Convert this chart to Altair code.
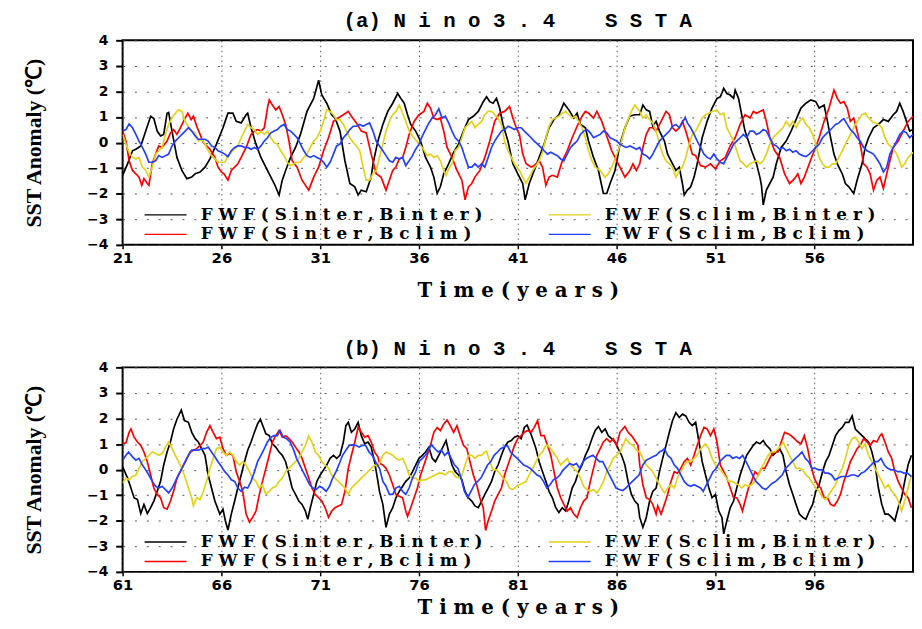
import altair as alt
import pandas as pd

# legend is laid out column by column: column 1 = black, red ; column 2 = yellow, blue
SERIES = ["FWF(Sinter,Binter)", "FWF(Sinter,Bclim)", "FWF(Sclim,Binter)", "FWF(Sclim,Bclim)"]
COLORS = ["#000000", "#ff0000", "#e3d21c", "#2440ff"]

TICKS_A = [21, 26, 31, 36, 41, 46, 51, 56]
TICKS_B = [61, 66, 71, 76, 81, 86, 91, 96]
Y_TICKS = [-4, -3, -2, -1, 0, 1, 2, 3, 4]

# ---------------- panel (a): (year, SST anomaly) ----------------
A_SINTER_BINTER = [(21.00,-1.28),(21.25,-0.83),(21.50,-0.32),(21.67,-0.26),(21.92,-0.13),(22.17,0.45),(22.42,1.03),(22.58,0.94),(22.75,0.45),(22.92,0.26),(23.08,0.32),(23.25,1.15),(23.33,1.18),(23.50,0.45),(23.75,-0.58),(24.00,-1.09),(24.25,-1.41),(24.50,-1.35),(24.67,-1.22),(24.92,-1.15),(25.17,-0.96),(25.42,-0.64),(25.75,-0.06),(26.08,0.58),(26.33,1.15),(26.58,1.15),(26.75,0.83),(27.00,0.77),(27.25,1.09),(27.33,1.15),(27.50,0.58),(27.75,-0.06),(28.00,-0.58),(28.33,-1.09),(28.67,-1.60),(28.92,-2.05),(29.08,-1.47),(29.25,-1.09),(29.50,-0.58),(29.75,-0.19),(30.00,0.32),(30.33,1.22),(30.67,1.73),(30.92,2.44),(31.08,1.86),(31.33,1.54),(31.58,1.09),(31.75,0.96),(32.00,0.45),(32.25,-0.71),(32.50,-1.60),(32.75,-1.73),(32.92,-2.05),(33.08,-1.86),(33.33,-1.92),(33.58,-1.35),
    (33.67,-0.83),(33.92,0.06),(34.17,0.71),(34.42,1.22),(34.67,1.54),(34.92,1.92),(35.08,1.73),(35.25,1.54),(35.42,1.09),(35.58,0.71),(35.83,0.45),(36.08,0.06),(36.33,-0.58),(36.58,-0.96),(36.75,-1.35),(36.92,-1.99),(37.08,-1.73),(37.25,-1.22),(37.50,-0.83),(37.75,-0.38),(38.00,-0.06),(38.25,0.45),(38.50,0.90),(38.75,1.03),(39.00,1.22),(39.25,1.60),(39.42,1.79),(39.58,1.60),(39.75,1.54),(39.92,1.73),(40.08,1.35),(40.25,0.71),(40.50,0.06),(40.75,-0.83),(41.00,-1.22),(41.25,-1.60),(41.37,-2.24),(41.58,-1.60),(41.83,-1.09),(42.08,-0.58),(42.33,-0.06),(42.58,0.58),(42.83,0.90),(43.08,1.09),(43.33,1.54),(43.58,1.28),(43.83,0.96),(44.00,1.15),(44.17,0.71),(44.42,0.58),(44.58,0.06),(44.83,-0.58),(45.08,-1.09),(45.33,-1.99),(45.50,-1.99),(45.67,-1.60),(45.92,-1.09),(46.17,-0.06),(46.42,0.58),(46.67,1.03),(46.92,1.09),
    (47.17,1.09),(47.33,1.47),(47.50,1.28),(47.67,1.22),(47.83,0.64),(48.00,0.83),(48.17,0.45),(48.42,0.06),(48.58,-0.45),(48.83,-0.83),(49.00,-1.09),(49.17,-0.96),(49.33,-1.60),(49.42,-2.05),(49.58,-1.86),(49.75,-1.73),(49.92,-1.35),(50.08,-0.83),(50.33,0.19),(50.58,0.83),(50.83,1.35),(51.08,1.73),(51.25,1.79),(51.42,2.12),(51.58,1.92),(51.75,1.86),(51.92,1.73),(52.00,2.05),(52.17,1.73),(52.33,1.09),(52.50,0.45),(52.67,0.06),(52.83,-0.32),(53.08,-0.83),(53.25,-1.35),(53.33,-1.67),(53.42,-2.44),(53.58,-1.86),(53.75,-1.60),(53.92,-1.35),(54.08,-0.83),(54.33,-0.19),(54.58,0.06),(54.83,0.45),(55.08,0.90),(55.33,1.35),(55.58,1.54),(55.83,1.67),(56.08,1.60),(56.25,1.35),(56.50,1.47),(56.67,0.83),(56.83,0.19),(57.00,-0.45),(57.17,-0.83),(57.42,-1.22),(57.58,-1.60),(57.75,-1.73),(58.00,-1.99),(58.17,-1.47),(58.42,-0.83),(58.58,-0.19),(58.75,0.19),(59.00,0.58),(59.25,0.71),(59.50,0.90),(59.75,0.83),(60.00,1.09),(60.17,1.22),(60.33,1.54),(60.50,1.22),(60.67,0.83),(60.83,0.45),(61.00,0.51)]

A_SINTER_BCLIM = [(21.00,0.45),(21.17,0.06),(21.33,-0.71),(21.50,-1.09),(21.67,-1.22),(21.83,-1.35),(21.97,-1.67),(22.08,-1.41),(22.25,-1.60),(22.33,-1.67),(22.50,-0.83),(22.67,-0.45),(22.83,-0.13),(23.00,-0.19),(23.25,0.06),(23.42,0.38),(23.58,0.51),(23.75,0.32),(23.92,0.58),(24.08,0.83),(24.30,1.15),(24.47,0.90),(24.58,1.03),(24.75,0.64),(24.92,0.32),(25.08,0.00),(25.25,-0.13),(25.42,-0.26),(25.67,-0.58),(25.83,-0.96),(26.00,-1.15),(26.13,-1.22),(26.33,-1.47),(26.50,-1.09),(26.67,-0.96),(26.83,-0.83),(27.00,-0.58),(27.25,-0.19),(27.50,0.32),(27.67,0.45),(27.83,0.51),(28.00,0.45),(28.17,0.58),(28.33,1.35),(28.42,1.67),(28.58,1.47),(28.75,1.28),(28.92,1.41),(29.08,1.09),(29.25,0.71),(29.42,0.06),(29.58,-0.71),(29.83,-0.96),(30.08,-1.47),(30.42,-1.86),(30.67,-1.35),(30.92,-0.96),(31.17,-0.32),(31.42,0.19),(31.67,0.83),(31.92,0.96),(32.17,1.09),(32.42,1.22),(32.58,1.03),(32.83,0.77),(33.08,0.45),(33.33,0.38),(33.58,-0.45),
    (33.67,-0.71),(33.83,-1.22),(34.08,-1.35),(34.33,-1.86),(34.50,-1.47),(34.67,-1.09),(34.83,-0.96),(35.00,-0.64),(35.17,-0.58),(35.33,-0.19),(35.50,0.32),(35.75,0.83),(36.00,1.09),(36.25,1.22),(36.42,1.54),(36.58,1.35),(36.75,0.96),(36.92,0.90),(37.08,0.96),(37.25,0.45),(37.42,-0.19),(37.67,-0.58),(37.92,-1.09),(38.17,-1.47),(38.33,-2.24),(38.50,-1.73),(38.67,-1.60),(38.83,-1.35),(39.08,-1.09),(39.33,-0.58),(39.58,0.06),(39.83,0.83),(40.08,1.15),(40.33,1.22),(40.58,1.41),(40.75,0.96),(40.92,0.58),(41.08,0.32),(41.25,-0.45),(41.42,-0.83),(41.67,-0.96),(41.83,-0.90),(42.08,-0.71),(42.25,-0.96),(42.42,-1.67),(42.58,-1.35),(42.75,-1.28),(43.00,-1.35),(43.25,-0.71),(43.50,-0.32),(43.75,0.19),(44.00,0.64),(44.25,1.03),(44.42,1.22),(44.58,1.15),(44.83,0.96),(45.00,1.22),(45.25,0.83),(45.50,0.26),(45.75,-0.32),(46.00,-0.71),(46.25,-1.09),(46.42,-1.35),(46.67,-1.09),(46.83,-0.83),(47.00,-1.09),
    (47.17,-0.83),(47.33,-0.19),(47.50,0.32),(47.67,0.58),(47.83,0.58),(48.00,0.45),(48.25,0.83),(48.50,1.22),(48.67,1.09),(48.83,0.58),(49.00,0.45),(49.17,0.58),(49.33,0.83),(49.50,0.45),(49.67,0.00),(49.83,-0.45),(50.00,-0.51),(50.25,-0.90),(50.50,-0.96),(50.75,-0.83),(51.00,-1.03),(51.25,-0.71),(51.50,-0.58),(51.75,-0.13),(52.00,0.19),(52.25,0.71),(52.50,1.09),(52.75,0.96),(52.92,1.22),(53.08,1.15),(53.25,1.22),(53.42,1.28),(53.58,0.83),(53.75,0.19),(54.00,-0.32),(54.25,-0.58),(54.50,-1.22),(54.75,-1.60),(55.00,-1.41),(55.17,-1.22),(55.33,-1.60),(55.50,-1.35),(55.75,-0.83),(56.00,-0.32),(56.25,0.19),(56.50,0.83),(56.75,1.35),(57.00,2.05),(57.17,1.73),(57.33,1.54),(57.50,1.60),(57.67,1.35),(57.83,0.83),(58.00,0.96),(58.17,0.45),(58.33,-0.06),(58.50,-0.83),(58.67,-0.96),(58.83,-1.22),(59.00,-1.86),(59.17,-1.47),(59.33,-1.35),(59.50,-1.79),(59.67,-1.22),(59.83,-0.71),(60.00,-0.19),(60.25,0.06),(60.50,0.45),(60.75,0.83),(61.00,1.03)]

A_SCLIM_BINTER = [(21.00,0.32),(21.17,-0.06),(21.33,-0.38),(21.50,-0.58),(21.67,-0.64),(21.83,-0.58),(22.00,-0.96),(22.17,-1.09),(22.33,-1.35),(22.50,-0.96),(22.67,-0.45),(22.83,-0.32),(23.00,-0.19),(23.17,0.32),(23.33,0.71),(23.50,0.96),(23.67,1.15),(23.83,1.28),(24.00,1.22),(24.17,0.83),(24.33,0.64),(24.50,0.45),(24.67,0.38),(24.83,0.06),(25.00,0.13),(25.17,-0.06),(25.33,-0.32),(25.50,-0.51),(25.67,-0.64),(25.83,-0.77),(26.00,-0.77),(26.17,-0.77),(26.33,-0.51),(26.50,-0.38),(26.67,-0.26),(26.83,-0.13),(27.00,0.19),(27.17,0.45),(27.33,0.71),(27.50,0.58),(27.67,0.51),(27.83,0.32),(28.00,0.45),(28.17,0.32),(28.33,0.45),(28.50,0.19),(28.67,0.00),(28.83,-0.06),(29.00,-0.32),(29.17,-0.51),(29.33,-0.77),(29.50,-0.90),(29.67,-0.83),(29.83,-0.77),(30.00,-0.77),(30.17,-0.58),(30.33,-0.45),(30.50,-0.19),(30.67,0.06),(30.83,0.19),(31.00,0.45),(31.17,0.83),(31.33,1.28),(31.50,1.22),(31.67,1.09),(31.83,0.90),(32.00,0.90),(32.17,0.71),(32.33,0.45),(32.50,0.19),(32.67,0.00),(32.83,-0.13),(33.00,-0.32),(33.17,-0.96),(33.33,-1.47),(33.50,-1.47),(33.67,-1.22),
    (33.83,-1.09),(34.00,-0.58),(34.17,-0.06),(34.33,0.45),(34.50,0.83),(34.67,1.09),(34.83,1.22),(35.00,1.47),(35.17,1.15),(35.33,0.83),(35.50,0.45),(35.75,0.19),(36.00,-0.06),(36.17,-0.19),(36.42,-0.51),(36.58,-0.45),(36.75,-0.58),(36.92,-0.51),(37.08,-0.71),(37.25,-1.09),(37.37,-1.28),(37.50,-1.03),(37.67,-0.83),(37.83,-0.32),(38.00,-0.19),(38.17,0.19),(38.33,0.58),(38.50,0.71),(38.67,0.83),(38.83,0.58),(39.00,0.71),(39.17,0.83),(39.33,1.09),(39.50,1.22),(39.67,1.22),(39.83,1.09),(40.00,0.96),(40.17,0.71),(40.33,0.06),(40.50,-0.32),(40.67,-0.58),(40.83,-0.83),(41.08,-1.09),(41.25,-1.35),(41.42,-1.60),(41.58,-1.35),(41.75,-1.09),(41.92,-0.90),(42.08,-0.71),(42.25,-0.38),(42.42,0.19),(42.58,0.64),(42.75,0.90),(42.92,0.96),(43.08,1.03),(43.25,1.15),(43.42,1.22),(43.58,1.09),(43.75,0.96),(43.92,1.03),(44.08,0.83),(44.25,0.58),(44.42,0.19),(44.58,-0.32),(44.75,-0.71),(44.92,-0.96),(45.17,-1.09),(45.42,-1.35),(45.58,-1.22),(45.75,-0.96),(45.92,-0.64),(46.08,-0.32),(46.25,0.06),(46.42,0.58),(46.58,0.90),(46.75,1.22),(46.92,1.47),
    (47.17,1.22),(47.33,0.96),(47.50,1.09),(47.67,0.90),(47.83,0.77),(48.00,0.45),(48.17,-0.06),(48.33,-0.45),(48.50,-0.71),(48.67,-0.83),(48.83,-0.96),(49.00,-1.35),(49.17,-1.09),(49.33,-0.96),(49.50,-0.58),(49.67,-0.06),(49.83,0.32),(50.00,0.45),(50.17,0.71),(50.33,0.96),(50.50,1.09),(50.67,1.15),(50.83,1.22),(51.08,1.28),(51.25,1.09),(51.42,1.15),(51.58,0.58),(51.75,0.32),(51.92,0.06),(52.08,-0.32),(52.25,-0.71),(52.42,-0.83),(52.58,-0.96),(52.75,-0.83),(52.92,-0.77),(53.08,-0.71),(53.25,-0.83),(53.42,-0.71),(53.58,-0.45),(53.75,-0.06),(53.92,0.19),(54.08,0.32),(54.25,0.45),(54.42,0.58),(54.58,0.83),(54.75,0.64),(54.92,0.83),(55.08,0.58),(55.25,0.83),(55.42,0.96),(55.58,0.71),(55.75,0.58),(55.92,0.32),(56.08,-0.06),(56.25,-0.58),(56.42,-0.83),(56.58,-0.96),(56.75,-0.96),(56.92,-0.83),(57.08,-0.83),(57.25,-0.58),(57.42,-0.32),(57.58,-0.06),(57.75,0.19),(57.92,0.45),(58.08,0.71),(58.25,0.90),(58.42,1.09),(58.58,1.15),(58.75,0.96),(58.92,0.83),(59.08,0.77),(59.25,0.71),(59.42,0.58),(59.58,0.19),(59.75,-0.06),(59.92,-0.19),(60.08,-0.32),(60.25,-0.58),(60.42,-0.96),(60.58,-0.83),(60.75,-0.58),(61.00,-0.38)]

A_SCLIM_BCLIM = [(21.00,0.45),(21.17,0.51),(21.33,0.73),(21.50,0.58),(21.67,0.32),(21.83,0.06),(22.00,-0.19),(22.17,-0.45),(22.33,-0.77),(22.50,-0.77),(22.67,-0.71),(22.83,-0.51),(23.00,-0.58),(23.17,-0.51),(23.33,-0.45),(23.50,-0.13),(23.67,0.06),(23.83,0.19),(24.00,0.32),(24.17,0.45),(24.33,0.58),(24.50,0.45),(24.67,0.26),(24.83,0.13),(25.00,0.13),(25.17,0.13),(25.33,0.06),(25.50,-0.13),(25.67,-0.19),(25.83,-0.32),(26.00,-0.38),(26.17,-0.45),(26.33,-0.55),(26.50,-0.32),(26.67,-0.19),(26.83,-0.13),(27.00,-0.13),(27.17,-0.19),(27.33,-0.19),(27.50,-0.26),(27.67,-0.19),(27.83,-0.26),(28.00,-0.13),(28.17,0.06),(28.33,0.19),(28.50,0.38),(28.67,0.45),(28.83,0.51),(29.00,0.64),(29.17,0.71),(29.33,0.51),(29.50,0.45),(29.67,0.32),(29.83,0.19),(30.00,-0.06),(30.17,-0.32),(30.33,-0.51),(30.50,-0.58),(30.67,-0.51),(30.83,-0.58),(31.00,-0.64),(31.17,-0.77),(31.33,-0.96),(31.50,-0.77),(31.67,-0.45),(31.83,-0.13),(32.00,-0.06),(32.17,0.19),(32.33,0.32),(32.50,0.51),(32.67,0.64),(32.83,0.64),(33.00,0.71),(33.17,0.64),(33.33,0.71),(33.50,0.77),(33.67,0.45),
    (33.83,0.06),(34.00,-0.13),(34.17,-0.32),(34.33,-0.51),(34.50,-0.71),(34.67,-0.77),(34.83,-0.58),(35.00,-0.64),(35.17,-0.58),(35.33,-0.90),(35.50,-0.71),(35.67,-0.51),(35.83,-0.26),(36.00,-0.06),(36.17,0.26),(36.33,0.51),(36.50,0.77),(36.67,0.96),(36.83,1.09),(37.00,1.32),(37.17,0.96),(37.33,1.03),(37.50,0.77),(37.67,0.45),(37.83,0.19),(38.00,0.06),(38.17,-0.19),(38.33,-0.58),(38.50,-0.96),(38.67,-0.96),(38.83,-0.83),(39.00,-0.96),(39.17,-0.83),(39.33,-0.96),(39.50,-0.58),(39.67,-0.19),(39.83,0.06),(40.00,0.26),(40.17,0.45),(40.33,0.51),(40.50,0.64),(40.67,0.58),(40.83,0.51),(41.00,0.58),(41.17,0.58),(41.33,0.45),(41.50,0.32),(41.67,0.19),(41.83,0.06),(42.00,-0.06),(42.17,-0.19),(42.33,-0.32),(42.50,-0.45),(42.67,-0.38),(42.83,-0.45),(43.00,-0.51),(43.17,-0.64),(43.33,-0.71),(43.50,-0.45),(43.67,-0.19),(43.83,-0.06),(44.00,0.06),(44.17,0.32),(44.33,0.45),(44.50,0.51),(44.67,0.38),(44.83,0.19),(45.00,0.26),(45.17,0.32),(45.33,0.45),(45.50,0.38),(45.67,0.19),(45.83,0.13),(46.00,0.06),(46.17,-0.06),(46.33,-0.13),(46.50,-0.19),(46.67,-0.13),(46.83,-0.19),
    (47.00,-0.26),(47.17,-0.19),(47.33,-0.45),(47.50,-0.51),(47.67,-0.64),(47.83,-0.45),(48.00,-0.19),(48.17,0.06),(48.33,0.19),(48.50,0.32),(48.67,0.45),(48.83,0.64),(49.00,0.71),(49.17,0.58),(49.33,0.77),(49.47,0.99),(49.58,0.77),(49.75,0.58),(49.92,0.32),(50.08,0.06),(50.25,-0.19),(50.42,-0.45),(50.58,-0.58),(50.75,-0.64),(50.92,-0.45),(51.08,-0.64),(51.25,-0.77),(51.42,-0.83),(51.58,-0.58),(51.75,-0.32),(51.92,-0.06),(52.08,0.06),(52.25,0.19),(52.42,0.32),(52.58,0.19),(52.75,0.45),(52.92,0.45),(53.08,0.32),(53.25,0.38),(53.42,0.51),(53.58,0.45),(53.75,0.19),(53.92,-0.06),(54.08,-0.13),(54.25,-0.26),(54.42,-0.19),(54.58,-0.32),(54.75,-0.26),(54.92,-0.38),(55.08,-0.32),(55.25,-0.45),(55.42,-0.51),(55.58,-0.55),(55.75,-0.45),(55.92,-0.32),(56.08,-0.19),(56.25,-0.06),(56.42,0.19),(56.58,0.32),(56.75,0.45),(56.92,0.58),(57.08,0.71),(57.25,0.77),(57.42,0.90),(57.50,0.94),(57.67,0.71),(57.83,0.51),(58.00,0.38),(58.17,0.19),(58.33,0.06),(58.50,-0.19),(58.67,-0.32),(58.83,-0.38),(59.00,-0.45),(59.17,-0.64),(59.33,-0.83),(59.50,-1.15),(59.67,-0.96),(59.83,-0.45),(60.00,-0.19),(60.17,0.06),(60.33,0.32),(60.50,0.45),(60.67,0.38),(60.83,0.19),(61.00,0.32)]

# ---------------- panel (b) ----------------
B_SINTER_BINTER = [(61.00,0.12),(61.25,-0.33),(61.42,-0.72),(61.58,-1.10),(61.75,-1.17),(61.92,-1.72),(62.08,-1.36),(62.25,-1.72),(62.42,-1.49),(62.58,-1.23),(62.75,-0.85),(62.92,-0.46),(63.08,0.18),(63.25,0.69),(63.42,1.08),(63.58,1.59),(63.75,1.97),(63.97,2.33),(64.13,1.92),(64.33,1.85),(64.50,1.46),(64.67,1.21),(64.83,1.08),(65.00,0.82),(65.17,0.56),(65.33,-0.21),(65.50,-0.72),(65.67,-1.23),(65.92,-1.74),(66.08,-1.55),(66.20,-2.00),(66.33,-2.36),(66.50,-1.74),(66.67,-1.23),(66.83,-0.72),(67.00,-0.21),(67.17,0.31),(67.33,0.76),(67.50,1.08),(67.67,1.46),(67.83,1.79),(67.97,1.97),(68.13,1.65),(68.25,1.40),(68.42,1.33),(68.58,1.01),(68.75,0.88),(68.92,0.69),(69.08,0.56),(69.25,0.31),(69.42,-0.21),(69.58,-0.72),(69.75,-0.97),(69.92,-1.23),(70.08,-1.36),(70.25,-1.62),(70.37,-1.94),(70.50,-1.49),(70.67,-0.97),(70.83,-0.46),(71.00,-0.21),(71.17,-0.01),(71.33,0.18),(71.50,0.44),(71.67,0.56),(71.83,0.44),(72.00,0.56),(72.17,1.08),(72.30,1.72),(72.42,1.85),(72.58,1.46),(72.75,1.59),(72.92,1.85),(73.08,1.33),(73.25,1.01),(73.42,1.08),(73.58,0.88),(73.75,0.31),(73.92,-0.46),(74.00,-0.85),
    (74.17,-1.36),(74.33,-2.26),(74.50,-1.74),(74.67,-1.49),(74.83,-1.10),(75.00,-0.85),(75.17,-0.65),(75.33,-0.46),(75.50,-0.33),(75.67,-0.08),(75.83,0.18),(76.00,0.44),(76.17,0.56),(76.33,0.69),(76.50,0.88),(76.67,0.44),(76.83,0.31),(77.00,0.56),(77.17,0.82),(77.37,1.14),(77.50,0.69),(77.67,0.18),(77.83,-0.08),(78.00,-0.21),(78.17,-0.40),(78.33,-0.85),(78.50,-1.10),(78.67,-1.23),(78.83,-1.42),(79.00,-1.49),(79.17,-1.23),(79.33,-0.97),(79.50,-0.72),(79.67,-0.46),(79.83,-0.08),(80.00,0.18),(80.17,0.56),(80.33,0.88),(80.50,1.08),(80.67,1.14),(80.83,1.27),(81.00,1.33),(81.17,1.21),(81.33,1.65),(81.47,1.74),(81.63,1.46),(81.75,1.21),(81.92,0.82),(82.08,0.31),(82.25,-0.08),(82.42,-0.46),(82.58,-0.85),(82.75,-1.10),(82.92,-1.49),(83.08,-1.68),(83.25,-1.49),(83.42,-1.62),(83.58,-1.23),(83.75,-0.72),(83.92,-0.46),(84.08,-0.08),(84.25,0.18),(84.42,0.56),(84.58,0.82),(84.75,1.21),(84.92,1.53),(85.08,1.69),(85.25,1.46),(85.42,1.59),(85.58,1.33),(85.75,1.21),(85.92,1.08),(86.08,0.82),(86.25,0.56),(86.42,0.18),(86.58,-0.46),(86.75,-0.97),(86.92,-1.23),(87.08,-1.36),
    (87.17,-1.87),(87.33,-2.26),(87.50,-1.87),(87.67,-1.23),(87.83,-0.85),(88.00,-0.72),(88.17,-0.08),(88.33,0.44),(88.50,0.95),(88.67,1.46),(88.83,1.92),(89.00,2.23),(89.17,2.04),(89.33,2.17),(89.50,2.10),(89.67,1.85),(89.83,1.72),(90.00,1.85),(90.17,1.08),(90.33,0.31),(90.50,-0.21),(90.67,-0.72),(90.83,-1.10),(91.00,-0.97),(91.17,-1.62),(91.33,-1.87),(91.42,-2.51),(91.58,-2.00),(91.75,-1.49),(91.92,-1.23),(92.08,-0.72),(92.25,-0.21),(92.42,0.18),(92.58,0.56),(92.75,0.76),(92.92,0.95),(93.08,1.08),(93.25,1.01),(93.42,1.14),(93.58,0.95),(93.75,0.82),(93.92,0.56),(94.08,0.69),(94.25,0.82),(94.42,0.56),(94.58,-0.08),(94.75,-0.59),(94.92,-0.97),(95.08,-1.36),(95.25,-1.74),(95.42,-1.87),(95.58,-1.94),(95.75,-1.62),(95.92,-1.36),(96.08,-0.85),(96.25,-0.59),(96.42,-0.08),(96.58,0.31),(96.75,0.56),(96.92,0.95),(97.08,1.33),(97.25,1.53),(97.42,1.65),(97.58,1.85),(97.75,1.85),(97.92,2.10),(98.08,1.59),(98.25,1.46),(98.42,1.33),(98.58,1.21),(98.75,1.08),(98.92,0.69),(99.08,0.18),(99.25,-0.72),(99.42,-1.36),(99.58,-1.74),(99.75,-1.74),(99.92,-1.87),(100.08,-2.00),(100.25,-1.49),(100.42,-1.10),(100.58,-0.46),(100.75,0.18),(100.92,0.56)]

B_SINTER_BCLIM = [(61.00,1.01),(61.17,1.05),(61.33,1.46),(61.42,1.59),(61.58,1.27),(61.75,1.08),(61.92,0.95),(62.08,0.69),(62.25,0.31),(62.42,-0.21),(62.58,-0.72),(62.75,-0.97),(62.92,-1.10),(63.08,-1.49),(63.25,-1.55),(63.42,-1.23),(63.58,-0.85),(63.75,-0.33),(63.92,-0.08),(64.08,0.18),(64.25,0.44),(64.42,0.69),(64.58,0.76),(64.75,0.82),(64.92,0.95),(65.08,1.08),(65.25,1.46),(65.42,1.72),(65.58,1.46),(65.75,1.21),(65.92,1.27),(66.08,0.82),(66.25,0.56),(66.42,0.63),(66.58,0.56),(66.75,-0.08),(66.92,-0.46),(67.08,-0.85),(67.25,-1.74),(67.42,-2.06),(67.58,-1.87),(67.75,-1.62),(67.92,-0.97),(68.08,-0.46),(68.25,0.05),(68.42,0.56),(68.58,1.08),(68.75,1.33),(68.92,1.53),(69.08,1.27),(69.25,1.33),(69.42,1.21),(69.58,1.08),(69.75,0.88),(69.92,0.69),(70.08,0.44),(70.25,0.05),(70.42,-0.33),(70.58,-0.72),(70.75,-0.97),(70.92,-1.10),(71.08,-1.23),(71.25,-1.49),(71.42,-1.87),(71.58,-1.62),(71.75,-1.49),(71.92,-1.42),(72.08,-1.36),(72.25,-0.85),(72.42,0.05),(72.58,0.56),(72.75,1.08),(72.92,1.65),(73.08,1.46),(73.25,1.27),(73.42,1.33),(73.58,1.08),(73.75,0.69),(73.92,0.50),(74.00,0.25),
    (74.17,0.18),(74.33,0.05),(74.50,-0.21),(74.67,-0.59),(74.83,-0.97),(75.00,-1.04),(75.17,-1.10),(75.33,-1.62),(75.42,-1.83),(75.58,-1.49),(75.75,-1.10),(75.92,-0.72),(76.08,-0.21),(76.25,0.18),(76.42,0.56),(76.58,0.95),(76.75,1.46),(76.92,1.65),(77.08,1.53),(77.25,1.78),(77.42,1.94),(77.58,1.72),(77.75,1.46),(77.92,1.72),(78.08,1.33),(78.25,0.95),(78.42,0.82),(78.58,0.31),(78.75,-0.21),(78.92,-0.59),(79.08,-1.10),(79.25,-1.49),(79.37,-2.38),(79.50,-2.00),(79.67,-1.62),(79.83,-1.23),(80.00,-0.97),(80.17,-0.72),(80.33,-0.21),(80.50,0.18),(80.67,0.56),(80.83,0.95),(81.00,1.21),(81.17,1.33),(81.33,1.46),(81.50,1.53),(81.67,1.46),(81.83,1.65),(82.00,1.91),(82.17,1.33),(82.33,1.33),(82.50,0.95),(82.67,0.56),(82.83,-0.08),(83.00,-0.72),(83.17,-1.10),(83.33,-1.36),(83.50,-1.62),(83.67,-1.49),(83.83,-1.74),(84.00,-1.87),(84.17,-1.49),(84.33,-1.23),(84.50,-1.10),(84.67,-0.46),(84.83,0.05),(85.00,0.56),(85.17,0.82),(85.33,1.08),(85.50,1.21),(85.67,1.08),(85.83,1.21),(86.00,0.95),(86.17,1.46),(86.42,1.69),(86.58,1.46),(86.75,1.33),(86.92,1.14),(87.08,0.95),
    (87.17,0.18),(87.33,-0.59),(87.50,-1.10),(87.67,-1.17),(87.83,-1.36),(88.00,-1.74),(88.08,-1.42),(88.25,-1.74),(88.42,-1.36),(88.58,-0.97),(88.75,-0.46),(88.92,-0.08),(89.08,-0.14),(89.25,0.05),(89.42,0.31),(89.58,0.44),(89.75,0.18),(89.92,0.56),(90.08,0.95),(90.25,1.33),(90.42,1.65),(90.58,1.59),(90.75,1.33),(90.92,1.59),(91.08,1.08),(91.25,0.18),(91.42,-0.08),(91.58,-0.33),(91.75,-0.72),(91.92,-1.10),(92.08,-1.10),(92.25,-1.36),(92.37,-1.62),(92.50,-1.23),(92.67,-0.72),(92.83,-0.46),(93.00,-0.08),(93.17,-0.21),(93.33,0.05),(93.50,0.05),(93.67,0.31),(93.83,0.56),(94.00,0.69),(94.17,0.69),(94.33,1.08),(94.50,1.46),(94.67,1.40),(94.83,1.33),(95.00,1.21),(95.17,1.08),(95.33,1.01),(95.50,1.33),(95.67,0.82),(95.83,0.18),(96.00,-0.33),(96.17,-0.59),(96.33,-0.72),(96.50,-1.10),(96.67,-1.10),(96.83,-1.36),(97.00,-1.42),(97.17,-1.23),(97.33,-0.97),(97.50,-0.46),(97.67,-0.08),(97.83,0.31),(98.00,0.56),(98.17,0.82),(98.33,0.95),(98.50,1.21),(98.67,1.08),(98.83,0.95),(99.00,1.14),(99.17,1.08),(99.33,1.33),(99.42,1.40),(99.58,1.08),(99.75,0.69),(99.92,0.44),(100.08,-0.08),(100.25,-0.46),(100.42,-0.72),(100.58,-0.97),(100.75,-1.10),(100.92,-1.49)]

B_SCLIM_BINTER = [(61.00,-0.53),(61.17,-0.33),(61.33,-0.40),(61.50,-0.27),(61.67,-0.21),(61.83,0.05),(62.00,0.31),(62.17,0.44),(62.33,0.56),(62.50,0.69),(62.67,0.63),(62.83,0.56),(63.00,0.63),(63.17,0.88),(63.33,1.08),(63.50,0.82),(63.67,0.56),(63.83,0.31),(64.00,0.05),(64.17,-0.33),(64.33,-0.72),(64.50,-1.10),(64.58,-1.42),(64.75,-1.10),(64.92,-1.17),(65.08,-0.85),(65.25,-0.46),(65.42,0.05),(65.58,0.44),(65.75,0.82),(65.92,0.88),(66.08,0.69),(66.25,0.56),(66.42,0.69),(66.58,0.56),(66.75,0.31),(66.92,0.18),(67.08,0.31),(67.25,0.18),(67.42,-0.08),(67.58,-0.33),(67.75,-0.46),(67.92,-0.72),(68.08,-0.59),(68.25,-0.97),(68.42,-0.85),(68.58,-0.72),(68.75,-0.65),(68.92,-0.46),(69.08,-0.33),(69.25,-0.08),(69.42,0.05),(69.58,0.18),(69.75,0.31),(69.92,0.44),(70.08,0.69),(70.25,0.95),(70.42,1.31),(70.58,1.08),(70.75,0.69),(70.92,0.56),(71.08,0.31),(71.25,0.18),(71.42,0.05),(71.58,-0.21),(71.75,-0.33),(71.92,-0.46),(72.08,-0.59),(72.25,-0.72),(72.42,-0.97),(72.58,-0.72),(72.75,-0.59),(72.92,-0.46),(73.08,-0.33),(73.25,-0.21),(73.42,-0.08),(73.58,0.05),(73.75,0.18),(73.92,0.12),
    (74.00,0.25),(74.17,0.56),(74.33,0.69),(74.50,0.63),(74.67,0.56),(74.83,0.44),(75.00,0.37),(75.17,0.44),(75.33,0.18),(75.50,-0.21),(75.67,-0.33),(75.83,-0.33),(76.00,-0.46),(76.17,-0.40),(76.33,-0.40),(76.50,-0.33),(76.67,-0.27),(76.83,-0.21),(77.00,-0.14),(77.17,-0.14),(77.33,-0.21),(77.50,-0.08),(77.67,-0.08),(77.83,-0.27),(78.00,-0.33),(78.17,-0.21),(78.33,0.18),(78.50,0.56),(78.67,0.56),(78.83,0.44),(79.00,0.56),(79.17,0.56),(79.33,0.69),(79.42,0.72),(79.58,0.31),(79.75,-0.01),(79.92,-0.01),(80.08,-0.14),(80.25,-0.33),(80.42,-0.46),(80.58,-0.72),(80.75,-0.78),(80.92,-0.65),(81.08,-0.59),(81.25,-0.53),(81.42,-0.46),(81.58,-0.21),(81.75,0.05),(81.92,0.31),(82.08,0.56),(82.25,0.69),(82.42,0.95),(82.50,0.95),(82.67,0.82),(82.83,0.63),(83.00,0.44),(83.17,0.18),(83.33,0.31),(83.50,0.44),(83.67,0.18),(83.83,0.05),(84.00,-0.08),(84.17,-0.33),(84.33,-0.65),(84.50,-0.78),(84.67,-0.85),(84.83,-0.78),(85.00,-0.91),(85.17,-0.72),(85.33,-0.46),(85.50,-0.08),(85.67,0.18),(85.83,0.44),(86.00,0.56),(86.17,0.69),(86.33,0.95),(86.47,1.21),(86.67,1.01),(86.83,0.95),(87.00,0.76),
    (87.17,0.69),(87.33,0.44),(87.50,0.18),(87.67,0.05),(87.83,-0.08),(88.00,-0.33),(88.17,-0.59),(88.42,-0.91),(88.58,-0.72),(88.75,-0.59),(88.92,-0.72),(89.08,-0.33),(89.25,-0.08),(89.42,0.18),(89.58,0.31),(89.75,0.31),(89.92,0.44),(90.08,0.56),(90.25,0.82),(90.50,1.01),(90.67,0.82),(90.83,0.44),(91.00,0.18),(91.17,0.05),(91.33,-0.08),(91.50,-0.27),(91.67,-0.46),(91.83,-0.46),(92.00,-0.53),(92.17,-0.59),(92.33,-0.72),(92.50,-0.59),(92.67,-0.65),(92.83,-0.59),(93.00,-0.46),(93.17,-0.21),(93.33,0.05),(93.50,0.31),(93.67,0.56),(93.83,0.69),(94.00,0.69),(94.17,0.82),(94.33,0.95),(94.42,1.08),(94.58,0.82),(94.75,0.56),(94.92,0.31),(95.08,0.05),(95.25,0.05),(95.42,-0.01),(95.58,-0.21),(95.75,-0.33),(95.92,-0.53),(96.08,-0.72),(96.25,-0.85),(96.42,-1.10),(96.58,-1.17),(96.75,-0.97),(96.92,-0.78),(97.08,-0.59),(97.25,-0.21),(97.42,0.05),(97.58,0.44),(97.75,0.95),(97.92,1.21),(98.08,1.27),(98.25,1.08),(98.42,0.82),(98.58,1.01),(98.75,0.56),(98.92,0.31),(99.08,0.05),(99.25,-0.21),(99.42,-0.46),(99.58,-0.72),(99.75,-0.59),(99.92,-0.85),(100.08,-0.97),(100.25,-1.23),(100.42,-1.62),(100.58,-1.23),(100.75,-0.72),(100.92,-0.21)]

B_SCLIM_BCLIM = [(61.00,0.37),(61.17,0.56),(61.30,0.69),(61.50,0.50),(61.67,0.37),(61.83,0.44),(62.00,0.18),(62.17,-0.01),(62.33,-0.21),(62.50,-0.46),(62.67,-0.65),(62.83,-0.72),(63.00,-0.65),(63.17,-0.78),(63.33,-0.91),(63.50,-0.72),(63.67,-0.46),(63.83,-0.21),(64.00,0.05),(64.17,0.31),(64.33,0.56),(64.50,0.76),(64.67,0.76),(64.83,0.76),(65.00,0.82),(65.17,0.82),(65.33,0.88),(65.50,0.69),(65.67,0.50),(65.83,0.31),(66.00,0.12),(66.17,-0.08),(66.33,-0.21),(66.50,-0.40),(66.67,-0.46),(66.83,-0.72),(67.00,-0.85),(67.17,-0.69),(67.33,-0.72),(67.50,-0.46),(67.67,-0.08),(67.83,0.31),(68.00,0.56),(68.17,0.82),(68.33,1.08),(68.50,1.27),(68.67,1.33),(68.83,1.33),(68.97,1.53),(69.13,1.27),(69.30,1.21),(69.47,1.08),(69.63,0.82),(69.80,0.44),(69.97,0.18),(70.13,-0.08),(70.30,-0.33),(70.47,-0.59),(70.63,-0.72),(70.80,-0.78),(70.97,-0.65),(71.13,-0.72),(71.30,-0.85),(71.47,-0.65),(71.63,-0.33),(71.80,-0.08),(71.97,0.24),(72.13,0.56),(72.30,0.76),(72.47,0.95),(72.63,0.97),(72.80,0.95),(72.97,0.88),(73.13,0.95),(73.30,0.95),(73.47,0.69),(73.63,0.56),(73.80,0.31),(74.00,0.05),
    (74.17,-0.46),(74.33,-0.65),(74.50,-0.97),(74.67,-0.97),(74.83,-0.72),(75.00,-0.65),(75.17,-0.85),(75.33,-0.97),(75.50,-0.72),(75.67,-0.33),(75.83,-0.08),(76.00,0.31),(76.17,0.44),(76.33,0.56),(76.50,0.82),(76.63,0.97),(76.80,0.82),(76.97,0.69),(77.13,0.76),(77.30,0.56),(77.47,0.69),(77.63,0.44),(77.80,0.18),(77.97,0.05),(78.13,-0.33),(78.30,-0.85),(78.47,-1.10),(78.63,-0.85),(78.80,-0.59),(78.97,-0.46),(79.13,-0.33),(79.30,-0.08),(79.47,0.18),(79.63,0.31),(79.80,0.56),(79.97,0.69),(80.13,0.82),(80.30,0.88),(80.47,0.95),(80.63,0.69),(80.80,0.56),(80.97,0.44),(81.13,0.31),(81.30,0.18),(81.47,0.12),(81.63,0.05),(81.80,-0.08),(81.97,-0.21),(82.13,-0.27),(82.30,-0.46),(82.47,-0.72),(82.63,-0.59),(82.80,-0.40),(82.97,-0.33),(83.13,-0.21),(83.30,-0.01),(83.47,0.12),(83.63,0.24),(83.80,0.18),(83.97,0.24),(84.13,0.05),(84.30,0.31),(84.47,0.44),(84.63,0.50),(84.80,0.56),(84.97,0.44),(85.13,0.31),(85.30,0.31),(85.47,0.05),(85.63,-0.21),(85.80,-0.46),(85.97,-0.72),(86.13,-0.78),(86.30,-0.82),(86.47,-0.72),(86.63,-0.59),(86.80,-0.46),(86.97,-0.33),(87.13,-0.21),
    (87.33,0.18),(87.50,0.37),(87.67,0.44),(87.83,0.50),(88.00,0.56),(88.17,0.69),(88.33,0.76),(88.42,0.82),(88.58,0.56),(88.75,0.44),(88.92,0.18),(89.08,0.05),(89.25,-0.21),(89.42,-0.46),(89.58,-0.59),(89.75,-0.65),(89.92,-0.59),(90.08,-0.65),(90.25,-0.72),(90.38,-0.85),(90.55,-0.59),(90.72,-0.33),(90.88,-0.08),(91.05,0.05),(91.22,0.31),(91.38,0.44),(91.55,0.56),(91.72,0.56),(91.88,0.44),(92.05,0.50),(92.22,0.44),(92.38,0.56),(92.55,0.31),(92.72,0.05),(92.88,-0.21),(93.05,-0.46),(93.22,-0.59),(93.38,-0.72),(93.55,-0.78),(93.72,-0.65),(93.88,-0.53),(94.05,-0.46),(94.22,-0.33),(94.38,-0.21),(94.55,0.05),(94.72,0.18),(94.88,0.31),(95.05,0.44),(95.22,0.56),(95.38,0.69),(95.55,0.44),(95.72,0.31),(95.88,0.05),(96.05,0.05),(96.22,-0.01),(96.38,-0.01),(96.55,-0.14),(96.72,-0.14),(96.88,-0.21),(97.05,-0.40),(97.22,-0.33),(97.38,-0.27),(97.55,-0.27),(97.72,-0.27),(97.88,-0.21),(98.05,-0.21),(98.22,-0.27),(98.38,-0.14),(98.55,-0.08),(98.72,0.05),(98.88,0.18),(99.05,0.31),(99.22,0.31),(99.38,0.44),(99.55,0.18),(99.72,0.05),(99.88,-0.01),(100.05,-0.01),(100.22,-0.08),(100.38,-0.08),(100.55,-0.14),(100.72,-0.14),(100.92,-0.27)]

NB = "\u00a0"
TITLE_A = "(a) N i n o 3 . 4 " + NB * 3 + "S S T A"
TITLE_B = "(b) N i n o 3 . 4 " + NB * 3 + "S S T A"
X_TITLE = "T i m e ( y e a r s )"
Y_TITLE = "SST Anomaly (℃)"


def to_frame(series_data):
    rows = []
    for name, pts in zip(SERIES, series_data):
        for t, v in pts:
            rows.append({"series": name, "year": t, "value": v})
    return pd.DataFrame(rows)


def panel(df, domain, ticks, title, x_title_pad):
    return alt.Chart(df).mark_line(strokeWidth=1.7, clip=True).encode(
        x=alt.X("year:Q",
                scale=alt.Scale(domain=domain, nice=False, zero=False),
                axis=alt.Axis(values=ticks, title=X_TITLE, format="d", labelFlush=False,
                              titleFont="DejaVu Serif", titleFontSize=20, titleFontWeight="bold",
                              titleColor="black", titlePadding=x_title_pad,
                              labelFont="DejaVu Sans", labelFontSize=15, labelFontWeight="bold",
                              labelColor="black", labelPadding=2,
                              tickColor="black", tickSize=4, tickWidth=1.5,
                              domain=False, grid=True, gridDash=[1.5, 3.5],
                              gridColor="#555555", gridWidth=1)),
        y=alt.Y("value:Q",
                scale=alt.Scale(domain=[-4, 4], nice=False),
                axis=alt.Axis(values=Y_TICKS, title=Y_TITLE,
                              titleFont="Liberation Serif", titleFontSize=22, titleFontWeight="bold",
                              titleColor="black", titlePadding=42,
                              labelFont="DejaVu Sans", labelFontSize=14, labelFontWeight="bold",
                              labelColor="black", labelPadding=8,
                              tickColor="black", tickSize=7, tickWidth=2,
                              domain=False, grid=True, gridDash=[2, 10],
                              gridColor="#555555", gridWidth=1)),
        color=alt.Color("series:N",
                        scale=alt.Scale(domain=SERIES, range=COLORS),
                        legend=alt.Legend(orient="none", legendX=34, legendY=167, columns=2,
                                          title=None, symbolType="M-2.5,0H2.5", symbolSize=289,
                                          symbolStrokeWidth=1.3, labelOffset=26,
                                          labelExpr="join(split(datum.label, ''), ' ')",
                                          labelFont="DejaVu Serif", labelFontSize=17,
                                          labelFontWeight="bold", labelColor="black",
                                          columnPadding=63, rowPadding=2, labelLimit=400,
                                          padding=0)),
    ).properties(
        width=800, height=207,
        title=alt.TitleParams(title, font="Liberation Mono", fontSize=21, fontWeight="bold",
                              color="black", anchor="middle", offset=2),
    )


df_a = to_frame([A_SINTER_BINTER, A_SINTER_BCLIM, A_SCLIM_BINTER, A_SCLIM_BCLIM])
df_b = to_frame([B_SINTER_BINTER, B_SINTER_BCLIM, B_SCLIM_BINTER, B_SCLIM_BCLIM])

chart = alt.vconcat(
    panel(df_a, [21, 61], TICKS_A, TITLE_A, 15),
    panel(df_b, [61, 101], TICKS_B, TITLE_B, 5),
    spacing=36,
).resolve_legend(color="independent").configure_view(
    stroke="black", strokeWidth=2
).properties(
    padding={"left": 13, "top": -2, "right": 0, "bottom": 0}, background="white"
)

chart.save("out.html", embed_options={"renderer": "svg", "actions": False})
